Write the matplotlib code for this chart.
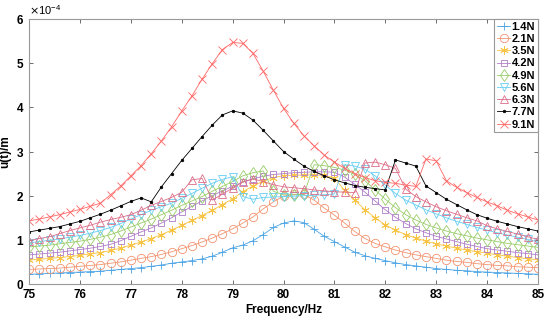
import matplotlib
matplotlib.use("Agg")
import matplotlib.pyplot as plt
import numpy as np

plt.rcParams['font.family'] = ['Liberation Sans', 'DejaVu Sans']

# frequency grid (Hz)
freq = np.round(np.arange(75.0, 85.01, 0.2), 1)

# displacement amplitude, units of 1e-4 m
u_14 = [0.22, 0.23, 0.24, 0.25, 0.26, 0.27, 0.28, 0.29, 0.31, 0.33,
        0.35, 0.37, 0.40, 0.43, 0.47, 0.50, 0.53, 0.57, 0.63, 0.72,
        0.82, 0.88, 0.98, 1.12, 1.28, 1.38, 1.43, 1.39, 1.24, 1.08,
        0.96, 0.84, 0.72, 0.64, 0.58, 0.53, 0.48, 0.44, 0.41, 0.38,
        0.35, 0.33, 0.31, 0.30, 0.28, 0.27, 0.26, 0.25, 0.24, 0.23, 0.22]
u_21 = [0.33, 0.34, 0.35, 0.36, 0.38, 0.40, 0.42, 0.44, 0.47, 0.50,
        0.54, 0.58, 0.62, 0.67, 0.73, 0.80, 0.87, 0.95, 1.04, 1.14,
        1.25, 1.38, 1.52, 1.70, 1.86, 1.99, 2.03, 2.03, 1.90, 1.72,
        1.56, 1.38, 1.19, 1.03, 0.92, 0.84, 0.77, 0.71, 0.66, 0.62,
        0.58, 0.54, 0.51, 0.49, 0.46, 0.44, 0.42, 0.41, 0.39, 0.38, 0.37]
u_35 = [0.54, 0.56, 0.58, 0.60, 0.62, 0.65, 0.68, 0.71, 0.76, 0.81,
        0.88, 0.95, 1.03, 1.12, 1.22, 1.33, 1.44, 1.55, 1.67, 1.80,
        1.93, 2.09, 2.22, 2.33, 2.41, 2.45, 2.46, 2.47, 2.47, 2.46,
        2.40, 2.12, 1.90, 1.68, 1.50, 1.34, 1.22, 1.12, 1.04, 0.97,
        0.91, 0.86, 0.81, 0.77, 0.73, 0.70, 0.66, 0.63, 0.60, 0.57, 0.55]
u_42 = [0.66, 0.68, 0.70, 0.72, 0.75, 0.78, 0.81, 0.85, 0.90, 0.98,
        1.08, 1.18, 1.27, 1.38, 1.50, 1.63, 1.76, 1.88, 2.00, 2.11,
        2.21, 2.31, 2.38, 2.44, 2.48, 2.50, 2.52, 2.53, 2.54, 2.54,
        2.53, 2.42, 2.26, 2.08, 1.88, 1.68, 1.51, 1.37, 1.25, 1.16,
        1.08, 1.02, 0.96, 0.90, 0.85, 0.80, 0.77, 0.74, 0.71, 0.69, 0.66]
u_49 = [0.84, 0.86, 0.88, 0.91, 0.94, 0.97, 1.01, 1.06, 1.12, 1.20,
        1.29, 1.38, 1.47, 1.57, 1.67, 1.78, 1.88, 1.98, 2.10, 2.21,
        2.32, 2.45, 2.52, 2.56, 2.10, 2.02, 2.02, 2.03, 2.70, 2.68,
        2.64, 2.58, 2.48, 2.34, 2.13, 1.92, 1.73, 1.57, 1.45, 1.35,
        1.27, 1.20, 1.14, 1.09, 1.04, 1.00, 0.96, 0.92, 0.89, 0.86, 0.83]
u_56 = [0.93, 0.96, 0.99, 1.02, 1.06, 1.10, 1.15, 1.21, 1.28, 1.37,
        1.47, 1.57, 1.67, 1.75, 1.83, 1.94, 2.05, 2.17, 2.28, 2.37,
        2.43, 1.98, 1.92, 1.96, 1.97, 1.98, 1.99, 2.00, 2.01, 2.02,
        2.04, 2.70, 2.67, 2.60, 2.45, 2.24, 2.05, 1.90, 1.79, 1.68,
        1.59, 1.50, 1.42, 1.35, 1.28, 1.22, 1.16, 1.11, 1.06, 1.01, 0.95]
u_63 = [0.98, 1.03, 1.07, 1.14, 1.21, 1.27, 1.33, 1.40, 1.46, 1.51,
        1.57, 1.67, 1.78, 1.87, 1.96, 2.08, 2.36, 2.39, 1.90, 2.04,
        2.17, 2.31, 2.38, 2.32, 2.25, 2.20, 2.18, 2.16, 2.13, 2.11,
        2.09, 2.08, 2.07, 2.74, 2.76, 2.70, 2.62, 2.15, 1.98, 1.86,
        1.75, 1.66, 1.58, 1.50, 1.43, 1.32, 1.25, 1.19, 1.13, 1.07, 1.01]
u_77 = [1.18, 1.22, 1.26, 1.30, 1.36, 1.42, 1.50, 1.58, 1.67, 1.77,
        1.87, 1.95, 1.86, 2.20, 2.50, 2.80, 3.07, 3.34, 3.60, 3.83,
        3.92, 3.87, 3.71, 3.48, 3.24, 3.00, 2.83, 2.67, 2.55, 2.45,
        2.36, 2.29, 2.23, 2.19, 2.16, 2.13, 2.81, 2.74, 2.67, 2.22,
        2.07, 1.92, 1.80, 1.68, 1.57, 1.49, 1.42, 1.36, 1.30, 1.25, 1.20]
u_91 = [1.43, 1.47, 1.52, 1.57, 1.63, 1.69, 1.76, 1.83, 2.02, 2.22,
        2.45, 2.68, 2.95, 3.24, 3.56, 3.92, 4.26, 4.64, 4.99, 5.31,
        5.47, 5.45, 5.22, 4.82, 4.39, 3.98, 3.64, 3.36, 3.13, 2.92,
        2.76, 2.62, 2.50, 2.41, 2.34, 2.30, 2.28, 2.24, 2.21, 2.83,
        2.79, 2.34, 2.19, 2.07, 1.96, 1.86, 1.77, 1.67, 1.59, 1.52, 1.45]

labels = ['1.4N', '2.1N', '3.5N', '4.2N', '4.9N', '5.6N', '6.3N', '7.7N', '9.1N']
series = [u_14, u_21, u_35, u_42, u_49, u_56, u_63, u_77, u_91]
colors = ['#4aa3e4', '#f29470', '#f7c445', '#b07cc8', '#98cc68',
          '#66cdf2', '#dc6e88', '#000000', '#ff6666']
markers = ['+', 'o', (6, 2, 0), 's', 'd', 'v', '^', '.', 'x']
msizes = [6, 6, 6, 5, 6, 6, 6, 3.5, 6]

fig = plt.figure(figsize=(5.5, 3.2), dpi=100)
ax = fig.add_axes([0.053, 0.1125, 0.925, 0.828])

for u, lab, c, m, ms in zip(series, labels, colors, markers, msizes):
    ax.plot(freq, np.array(u) * 1e-4, color=c, lw=0.6, marker=m, ms=ms,
            mew=0.6, mfc=c if m == '.' else 'none', label=lab)

ax.set_xlim(75, 85)
ax.set_ylim(0, 6e-4)
ax.set_xticks(np.arange(75, 86, 1))
ax.set_yticks(np.arange(0, 6.01e-4, 1e-4))
ax.ticklabel_format(axis='y', style='sci', scilimits=(0, 0), useMathText=True)
ax.yaxis.get_offset_text().set_fontsize(8)

ax.tick_params(direction='in', top=True, right=True, labelsize=8.5,
               length=3, width=0.6, color='#555555')
for t in ax.get_xticklabels() + ax.get_yticklabels():
    t.set_fontweight('bold')
for sp in ax.spines.values():
    sp.set_color('#999999')
    sp.set_linewidth(0.8)

ax.set_xlabel('Frequency/Hz', fontsize=8.5, fontweight='bold', labelpad=2)
ax.set_ylabel('u(t)/m', fontsize=8.5, fontweight='bold', labelpad=3)

leg = ax.legend(loc='upper right', borderaxespad=0.0,
                prop={'weight': 'bold', 'size': 8}, handlelength=1.2,
                handletextpad=0.1, labelspacing=0.2, borderpad=0.25,
                fancybox=False, framealpha=1)
leg.get_frame().set_edgecolor('#999999')
leg.get_frame().set_linewidth(0.8)

fig.savefig('out.png', dpi=100)
